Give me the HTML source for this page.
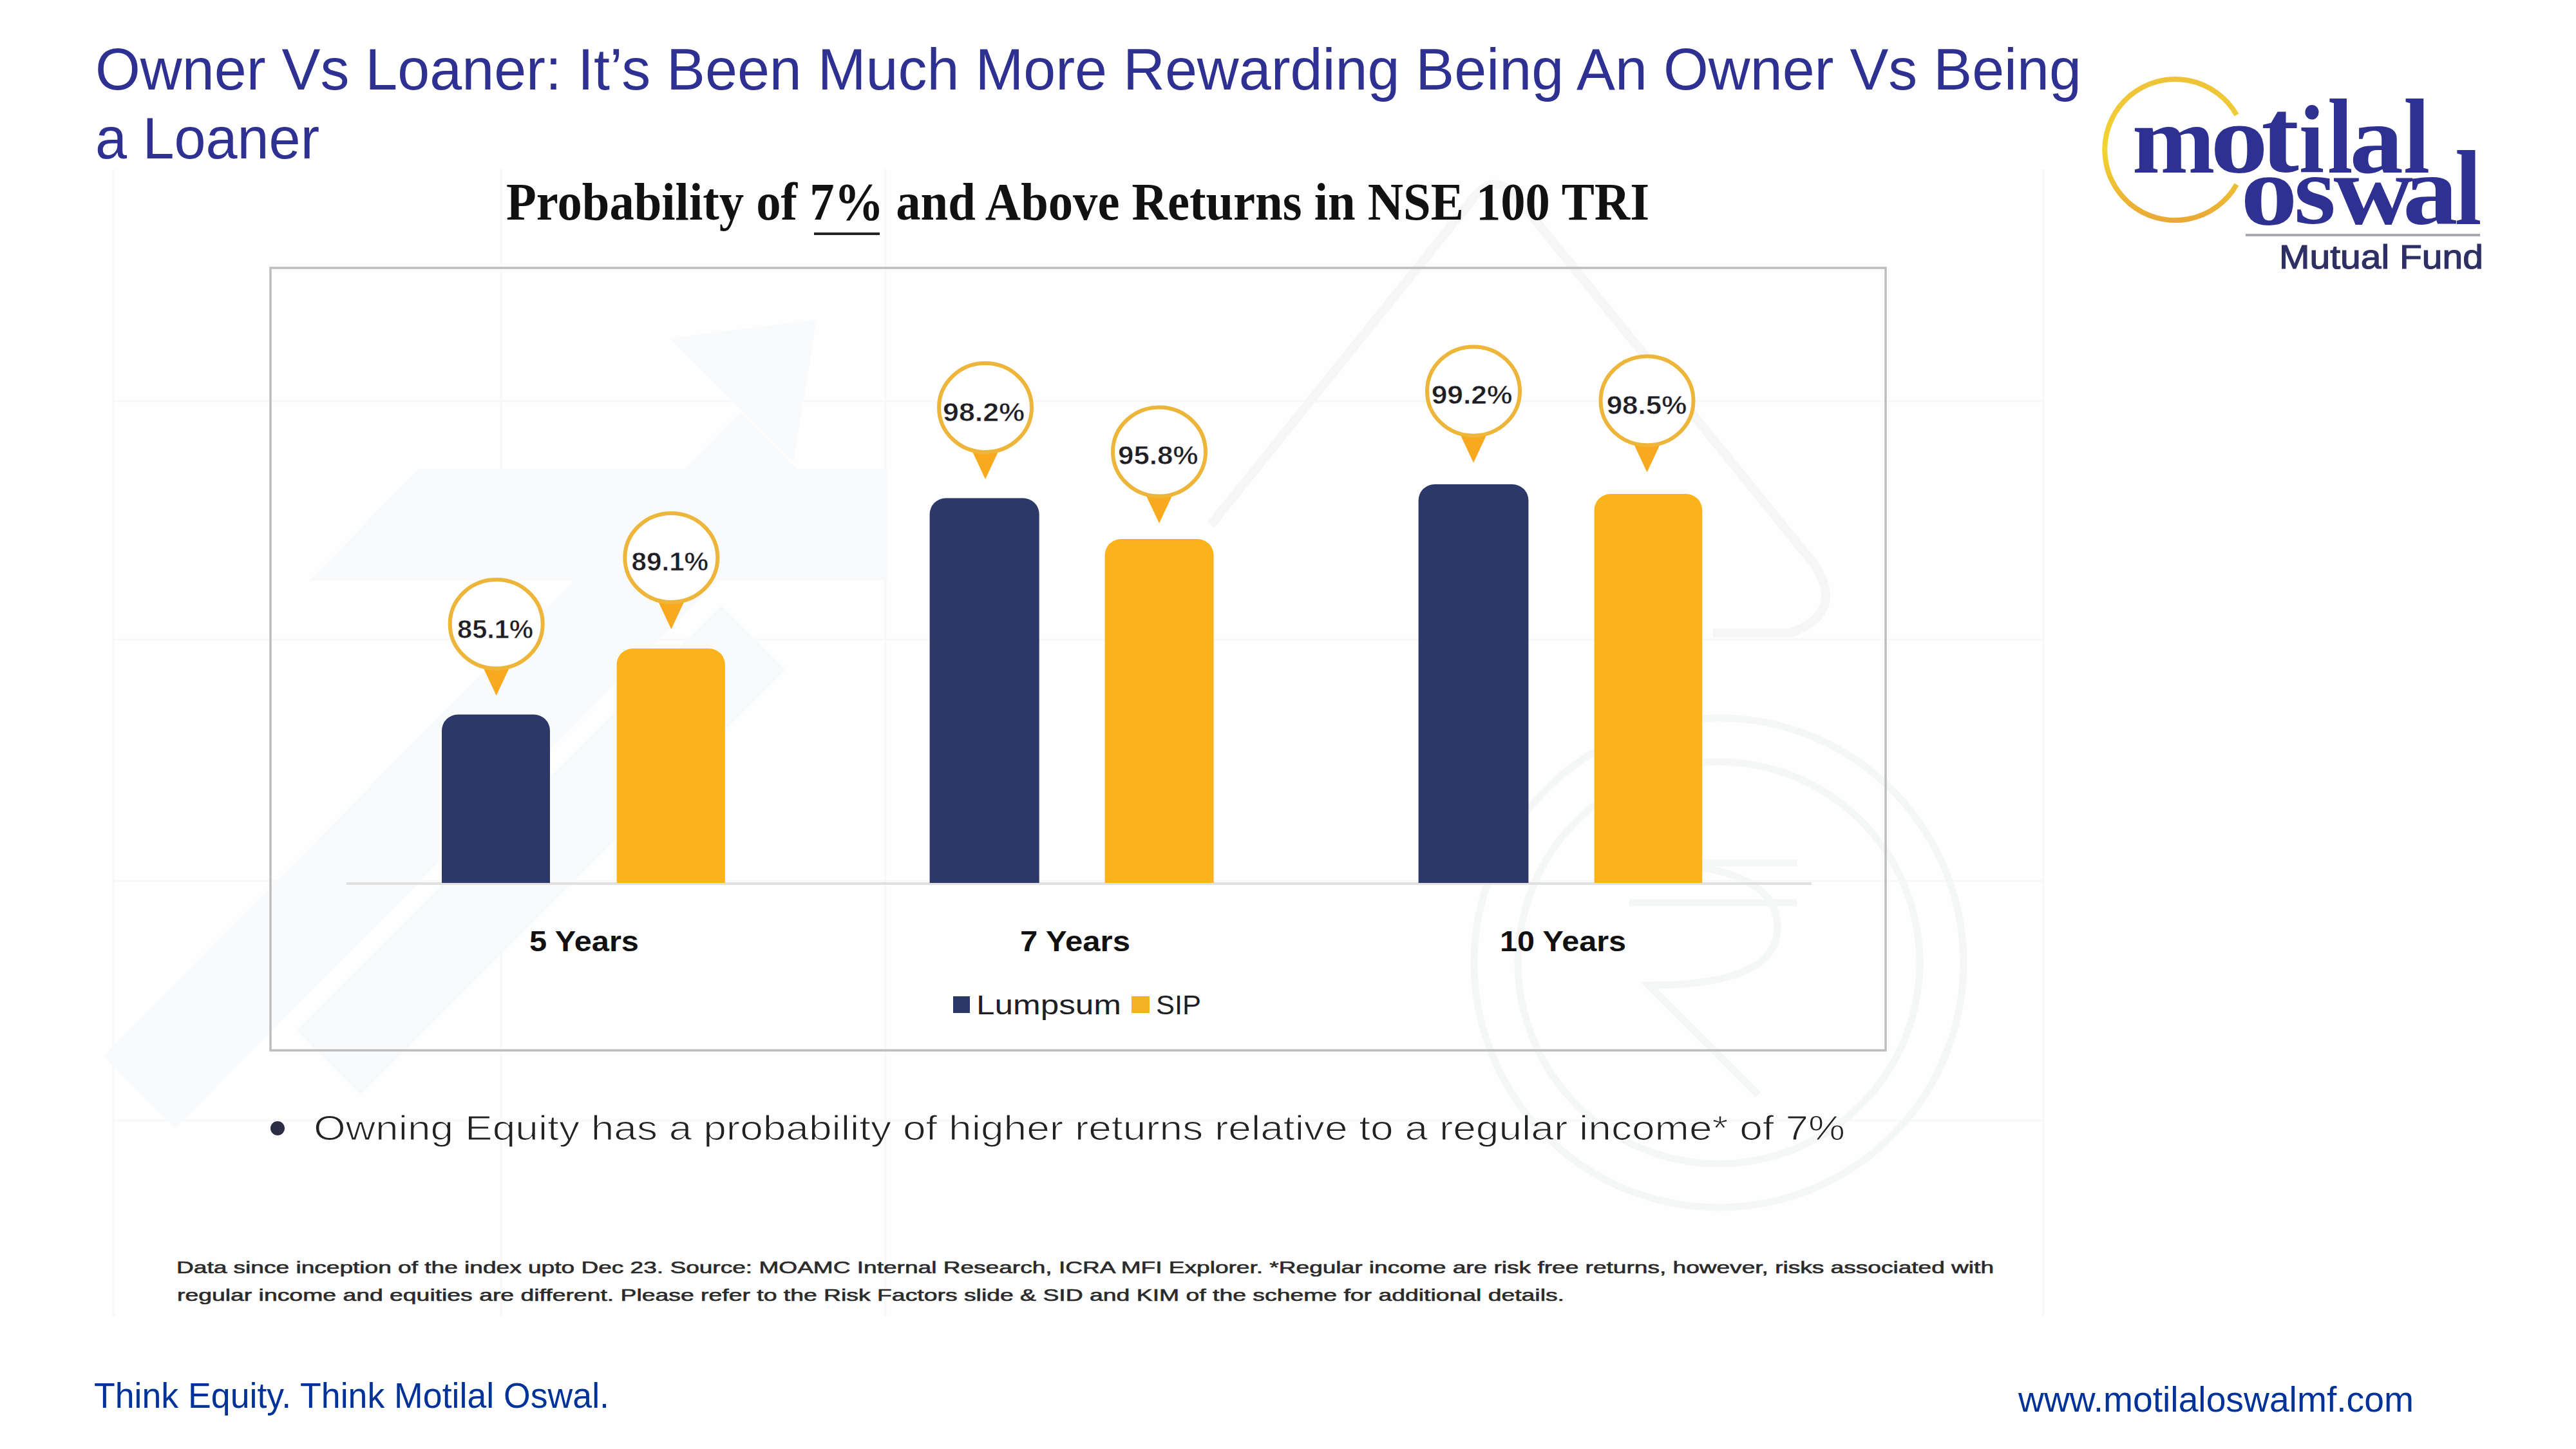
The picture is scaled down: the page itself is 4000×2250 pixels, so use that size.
<!DOCTYPE html>
<html>
<head>
<meta charset="utf-8">
<style>
html,body{margin:0;padding:0;background:#ffffff;}
body{width:4000px;height:2250px;overflow:hidden;position:relative;}
svg{position:absolute;left:0;top:0;}
.sans{font-family:"Liberation Sans",sans-serif;}
.serif{font-family:"Liberation Serif",serif;}
</style>
</head>
<body>
<svg width="4000" height="2250" viewBox="0 0 4000 2250">
  <!-- faint watermark background -->
  <g id="wm">
    <rect x="176" y="262" width="2997" height="1782" fill="#FEFEFE"/>
    <g stroke="#F8F8F8" stroke-width="3" fill="none">
      <path d="M176 262 V2044"/>
      <path d="M778 262 V2044"/>
      <path d="M1375 262 V2044"/>
      <path d="M3173 262 V2044"/>
      <path d="M176 623 H3173"/>
      <path d="M176 993 H3173"/>
      <path d="M176 1368 H3173"/>
      <path d="M176 1740 H3173"/>
    </g>
    <g fill="#F8FAFC">
      <path d="M160 1640 L1150 640 L1262 752 L272 1752 Z"/>
      <path d="M1040 525 L1268 496 L1232 716 Z"/>
      <path d="M650 728 H1378 V902 H480 Z"/>
      <path d="M460 1600 L1120 940 L1220 1040 L560 1700 Z"/>
    </g>
    <g fill="none" stroke="#F6F6F6" stroke-width="14">
      <path d="M1880 815 L2290 305 Q2322 268 2354 305 L2813 871 Q2870 950 2780 983 L2660 983"/>
    </g>
    <g fill="none" stroke="#F5F7F7" stroke-width="11">
      <circle cx="2669" cy="1495" r="380"/>
      <circle cx="2669" cy="1495" r="312"/>
      <path d="M2530 1340 H2790 M2530 1402 H2790 M2540 1340 Q2760 1340 2760 1440 Q2760 1530 2560 1530 L2730 1700"/>
    </g>
  </g>

  <!-- Title -->
  <g class="sans" fill="#2E3192" font-size="91.6">
    <text x="148" y="139" textLength="3084" lengthAdjust="spacingAndGlyphs">Owner Vs Loaner: It’s Been Much More Rewarding Being An Owner Vs Being</text>
    <text x="148" y="246" textLength="348" lengthAdjust="spacingAndGlyphs">a Loaner</text>
  </g>

  <!-- Chart title -->
  <g class="serif" font-weight="bold" fill="#111111" font-size="82">
    <text x="786" y="341" textLength="1775" lengthAdjust="spacingAndGlyphs">Probability of 7% and Above Returns in NSE 100 TRI</text>
  </g>
  <rect x="1264" y="361" width="102" height="4" fill="#222"/>

  <!-- Chart box -->
  <rect x="420" y="416" width="2508" height="1215" fill="none" stroke="#BDBDBD" stroke-width="3.5"/>

  <!-- axis -->
  <rect x="538" y="1370" width="2275" height="4" fill="#E0E0E0"/>

  <!-- bars -->
  <g fill="#2C3968">
    <path d="M686 1371 V1134.5 A25 25 0 0 1 711 1109.5 H829 A25 25 0 0 1 854 1134.5 V1371 Z"/>
    <path d="M1443.6 1371 V798.5 A25 25 0 0 1 1468.6 773.5 H1588.7 A25 25 0 0 1 1613.7 798.5 V1371 Z"/>
    <path d="M2202.6 1371 V777 A25 25 0 0 1 2227.6 752 H2348.4 A25 25 0 0 1 2373.4 777 V1371 Z"/>
  </g>
  <g fill="#FCB21A">
    <path d="M957.6 1371 V1032 A25 25 0 0 1 982.6 1007 H1100.8 A25 25 0 0 1 1125.8 1032 V1371 Z"/>
    <path d="M1715.6 1371 V862 A25 25 0 0 1 1740.6 837 H1859.5 A25 25 0 0 1 1884.5 862 V1371 Z"/>
    <path d="M2475.6 1371 V792 A25 25 0 0 1 2500.6 767 H2618.2 A25 25 0 0 1 2643.2 792 V1371 Z"/>
  </g>

  <!-- callouts -->
  <defs>
    <g id="pin">
      <path d="M-23 62 L23 62 L0 111 Z" fill="#F9A91E"/>
      <ellipse cx="0" cy="0" rx="72" ry="69" fill="#ffffff" stroke="#EDB53A" stroke-width="6"/>
    </g>
  </defs>
  <use href="#pin" x="770.7" y="969"/>
  <use href="#pin" x="1042.3" y="866"/>
  <use href="#pin" x="1530" y="633"/>
  <use href="#pin" x="1800" y="701.5"/>
  <use href="#pin" x="2288" y="607.4"/>
  <use href="#pin" x="2557.5" y="622.3"/>
  <g class="sans" font-weight="bold" fill="#1E1E24" font-size="40.7" stroke="#ffffff" stroke-width="0.6">
    <text x="710" y="991" textLength="118" lengthAdjust="spacingAndGlyphs">85.1%</text>
    <text x="980.6" y="886" textLength="119.5" lengthAdjust="spacingAndGlyphs">89.1%</text>
    <text x="1464" y="654" textLength="127" lengthAdjust="spacingAndGlyphs">98.2%</text>
    <text x="1736" y="721" textLength="124.4" lengthAdjust="spacingAndGlyphs">95.8%</text>
    <text x="2222.7" y="626.7" textLength="125.7" lengthAdjust="spacingAndGlyphs">99.2%</text>
    <text x="2494.7" y="642.8" textLength="124.5" lengthAdjust="spacingAndGlyphs">98.5%</text>
  </g>

  <!-- x labels -->
  <g class="sans" font-weight="bold" fill="#111111" font-size="44.5">
    <text x="822" y="1477" textLength="170" lengthAdjust="spacingAndGlyphs">5 Years</text>
    <text x="1584" y="1477" textLength="171" lengthAdjust="spacingAndGlyphs">7 Years</text>
    <text x="2329" y="1477" textLength="196" lengthAdjust="spacingAndGlyphs">10 Years</text>
  </g>

  <!-- legend -->
  <rect x="1480" y="1547" width="26" height="26" fill="#2C3968"/>
  <rect x="1757" y="1547" width="28" height="26" fill="#F2B323"/>
  <g class="sans" fill="#1E1E24" font-size="42">
    <text x="1516" y="1575" textLength="225" lengthAdjust="spacingAndGlyphs">Lumpsum</text>
    <text x="1795" y="1575" textLength="70" lengthAdjust="spacingAndGlyphs">SIP</text>
  </g>

  <!-- bullet -->
  <circle cx="431" cy="1752" r="11" fill="#2B2D45"/>
  <g class="sans" fill="#222222" font-size="54" stroke="#ffffff" stroke-width="1.2">
    <text x="487" y="1770" textLength="2378" lengthAdjust="spacingAndGlyphs">Owning Equity has a probability of higher returns relative to a regular income* of 7%</text>
  </g>

  <!-- footnote -->
  <g class="sans" fill="#2A2A2A" font-size="25.4" stroke="#2A2A2A" stroke-width="0.6">
    <text x="274" y="1977" textLength="2822" lengthAdjust="spacingAndGlyphs">Data since inception of the index upto Dec 23. Source: MOAMC Internal Research, ICRA MFI Explorer. *Regular income are risk free returns, however, risks associated with</text>
    <text x="275" y="2020" textLength="2154" lengthAdjust="spacingAndGlyphs">regular income and equities are different. Please refer to the Risk Factors slide &amp; SID and KIM of the scheme for additional details.</text>
  </g>

  <!-- footer -->
  <g class="sans" fill="#003399" font-size="54.8">
    <text x="146" y="2186" textLength="800" lengthAdjust="spacingAndGlyphs">Think Equity. Think Motilal Oswal.</text>
    <text x="3134" y="2192" textLength="614" lengthAdjust="spacingAndGlyphs">www.motilaloswalmf.com</text>
  </g>

  <!-- logo -->
  <defs>
    <linearGradient id="gold" x1="0" y1="0" x2="0" y2="1">
      <stop offset="0" stop-color="#EFC23A"/>
      <stop offset="0.5" stop-color="#F1D531"/>
      <stop offset="1" stop-color="#E9A936"/>
    </linearGradient>
  </defs>
  <path d="M3473 178.5 A109.5 109.5 0 1 0 3473 286.5" fill="none" stroke="url(#gold)" stroke-width="8"/>
  <g class="serif" font-weight="bold" fill="#2E3192" font-size="100">
    <text transform="matrix(1.5461 0 0 1.5068 3310.85 268.00)">m</text>
    <text transform="matrix(1.7932 0 0 1.5178 3432.17 267.52)">o</text>
    <text transform="matrix(1.7600 0 0 1.6587 3511.16 267.38)">t</text>
    <text transform="matrix(1.4096 0 0 1.5133 3569.90 268.00)">i</text>
    <text transform="matrix(1.4096 0 0 1.6517 3614.25 268.00)">l</text>
    <text transform="matrix(1.6680 0 0 1.5240 3648.62 267.51)">a</text>
    <text transform="matrix(1.4717 0 0 1.6517 3732.13 268.00)">l</text>
    <text transform="matrix(1.7696 0 0 1.5532 3479.26 348.18)">o</text>
    <text transform="matrix(1.6743 0 0 1.5074 3561.93 347.03)">s</text>
    <text transform="matrix(1.7090 0 0 1.5360 3623.50 346.50)">w</text>
    <text transform="matrix(1.7122 0 0 1.5449 3730.98 347.49)">a</text>
    <text transform="matrix(1.4925 0 0 1.6589 3812.09 347.50)">l</text>
  </g>
  <rect x="3487" y="363" width="364" height="4" fill="#A8A8B0"/>
  <g class="sans" fill="#2E3065" font-size="51" stroke="#2E3065" stroke-width="1.2">
    <text x="3539" y="417" textLength="317" lengthAdjust="spacingAndGlyphs">Mutual Fund</text>
  </g>
</svg>
</body>
</html>
